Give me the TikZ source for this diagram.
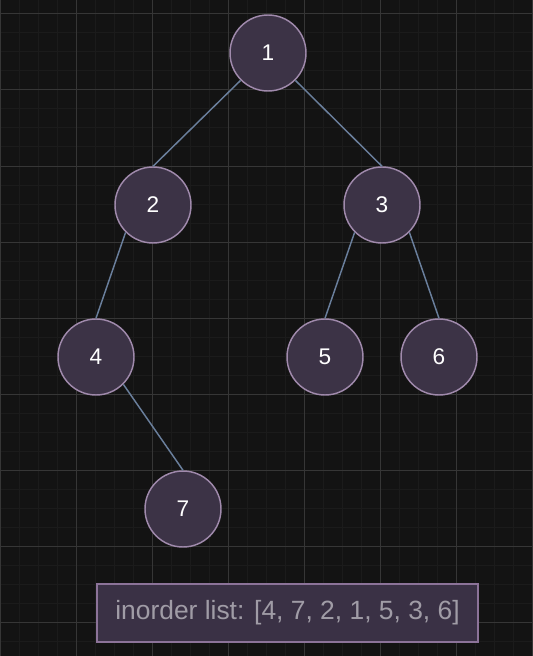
\documentclass[tikz,border=0pt]{standalone}
\usepackage{fontspec}
\setmainfont{Liberation Sans}
\definecolor{bgcol}{HTML}{131313}
\definecolor{minorcol}{HTML}{1B1B1B}
\definecolor{majorcol}{HTML}{363636}
\definecolor{nodefill}{HTML}{3C3346}
\definecolor{nodeline}{HTML}{A08AAC}
\definecolor{edgecol}{HTML}{6A7F9C}
\definecolor{boxfill}{HTML}{3A3145}
\definecolor{boxline}{HTML}{8C7399}
\definecolor{boxtext}{HTML}{A09CA6}

\begin{document}
\begin{tikzpicture}[x=0.75pt,y=-0.75pt,
    treenode/.style={circle,draw=nodeline,fill=nodefill,line width=1.1pt,
        minimum size=57pt,inner sep=0pt,text=white,font=\fontsize{17}{19}\selectfont},
    treeedge/.style={draw=edgecol,line width=1.1pt},
    listbox/.style={draw=boxline,fill=boxfill,line width=1.1pt,
        minimum width=285.75pt,minimum height=43.5pt,inner sep=0pt,
        text=boxtext,font=\fontsize{19.8}{22}\selectfont}]
    % 背景とグリッド
    \fill[bgcol] (0,0) rectangle (532,656);
    \useasboundingbox (0,0) rectangle (532,656);
    \foreach \i in {0,...,28} {
        \draw[minorcol,line width=0.75pt] (0.7+19*\i,0) -- (0.7+19*\i,656);
    }
    \foreach \i in {-1,...,34} {
        \draw[minorcol,line width=0.75pt] (0,14+19*\i) -- (532,14+19*\i);
    }
    \foreach \i in {0,...,7} {
        \draw[majorcol,line width=0.75pt] (0.7+76*\i,0) -- (0.7+76*\i,656);
    }
    \foreach \i in {0,...,8} {
        \draw[majorcol,line width=0.75pt] (0,14+76*\i) -- (532,14+76*\i);
    }

    % 木の頂点
    \node[treenode] (n1) at (268,53) {1};
    \node[treenode] (n2) at (153,205) {2};
    \node[treenode] (n3) at (382,205) {3};
    \node[treenode] (n4) at (96,357) {4};
    \node[treenode] (n5) at (325,357) {5};
    \node[treenode] (n6) at (439,357) {6};
    \node[treenode] (n7) at (183,509) {7};

    % 辺 (親の斜め下から子の上端へ)
    \draw[treeedge] (n1.south west) -- (n2.north);
    \draw[treeedge] (n1.south east) -- (n3.north);
    \draw[treeedge] (n2.south west) -- (n4.north);
    \draw[treeedge] (n3.south west) -- (n5.north);
    \draw[treeedge] (n3.south east) -- (n6.north);
    \draw[treeedge] (n4.south east) -- (n7.north);

    % 結果の表示
    \node[listbox] (inorder) at (287.5,613) {inorder list: [4, 7, 2, 1, 5, 3, 6]};
\end{tikzpicture}
\end{document}
